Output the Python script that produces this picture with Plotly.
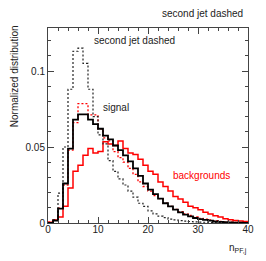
import plotly.graph_objects as go

# Bin edges of the n_PF,j histograms (unit-width bins, 0..40)
bin_edges = list(range(0, 41))

# Signal, leading jet (black solid)
sig_lead = [0.0, 0.0015, 0.0094, 0.026, 0.049, 0.068, 0.0715, 0.0715, 0.068, 0.065,
            0.062, 0.0575, 0.055, 0.051, 0.048, 0.0445, 0.0405, 0.036, 0.031, 0.026,
            0.022, 0.019, 0.016, 0.013, 0.011, 0.0088, 0.007, 0.0055, 0.0044, 0.0033,
            0.0026, 0.002, 0.0015, 0.001, 0.0008, 0.0006, 0.0004, 0.0003, 0.0002, 0.0001]

# Signal, second jet (black dotted)
sig_second = [0.0, 0.002, 0.0197, 0.050, 0.088, 0.113, 0.115, 0.105, 0.088, 0.070,
              0.058, 0.052, 0.041, 0.034, 0.029, 0.025, 0.021, 0.017, 0.013, 0.011,
              0.008, 0.006, 0.0045, 0.0035, 0.0025, 0.002, 0.0015, 0.0012, 0.001, 0.0008,
              0.0006, 0.0005, 0.0004, 0.0003, 0.0002, 0.0002, 0.0001, 0.0001, 0.0, 0.0]

# Backgrounds, leading jet (red solid)
bkg_lead = [0.0005, 0.002, 0.004, 0.011, 0.023, 0.034, 0.038, 0.0445, 0.049, 0.046,
            0.047, 0.0535, 0.052, 0.051, 0.054, 0.049, 0.046, 0.045, 0.042, 0.038,
            0.034, 0.032, 0.027, 0.024, 0.021, 0.0175, 0.0158, 0.0136, 0.011, 0.010,
            0.0088, 0.007, 0.006, 0.0048, 0.004, 0.0028, 0.0022, 0.0017, 0.0013, 0.001]

# Backgrounds, second jet (red dotted)
bkg_second = [0.0005, 0.002, 0.0097, 0.025, 0.048, 0.066, 0.0785, 0.0785, 0.0712, 0.0712,
              0.062, 0.056, 0.054, 0.047, 0.043, 0.040, 0.036, 0.032, 0.027, 0.024,
              0.021, 0.018, 0.016, 0.013, 0.011, 0.009, 0.0075, 0.006, 0.005, 0.004,
              0.003, 0.0025, 0.002, 0.0015, 0.001, 0.0008, 0.0006, 0.0004, 0.0003, 0.0002]

x_ticks = [0, 10, 20, 30, 40]
y_ticks = [0, 0.05, 0.1]
y_ticktext = ["0", "0.05", "0.1"]

FONT = "Liberation Sans, Arial, Helvetica, sans-serif"
RED = "#ff0000"

fig = go.Figure()

def add_hist(vals, color, width, dash):
    fig.add_trace(go.Scatter(
        x=bin_edges, y=vals + [vals[-1]], mode="lines",
        line=dict(color=color, width=width, dash=dash, shape="hv"),
        showlegend=False, hoverinfo="skip"))

add_hist(bkg_lead, RED, 1.5, "solid")
add_hist(bkg_second, RED, 1.3, "2px,2px")
add_hist(sig_second, "#222222", 1.2, "2px,2px")
add_hist(sig_lead, "#000000", 1.8, "solid")

axis_common = dict(
    showline=True, linecolor="#444444", linewidth=1, mirror="allticks",
    ticks="inside", tickcolor="#444444", tickwidth=1, ticklen=6,
    showgrid=False, zeroline=False,
    tickfont=dict(family=FONT, size=10, color="#222222"),
)

fig.update_xaxes(range=[0, 40], tickvals=x_ticks, ticklabelstandoff=-3,
                 minor=dict(ticks="inside", dtick=2, ticklen=3, tickcolor="#444444", showgrid=False),
                 **axis_common)
fig.update_yaxes(range=[0, 0.1283], tickvals=y_ticks, ticktext=y_ticktext,
                 minor=dict(ticks="inside", dtick=0.01, ticklen=3, tickcolor="#444444", showgrid=False),
                 **axis_common)

txt = dict(family=FONT, size=10, color="#222222")
annotations = [
    dict(text="second jet dashed", xref="paper", yref="paper", x=0.984, y=1.073,
         xanchor="right", yanchor="middle", showarrow=False, font=txt),
    dict(text="second jet dashed", xref="x", yref="y", x=8.76, y=0.120,
         xanchor="left", yanchor="middle", showarrow=False, font=txt),
    dict(text="signal", xref="x", yref="y", x=10.5, y=0.0759,
         xanchor="left", yanchor="middle", showarrow=False, font=txt),
    dict(text="backgrounds", xref="x", yref="y", x=24.6, y=0.0313,
         xanchor="left", yanchor="middle", showarrow=False,
         font=dict(family=FONT, size=10, color=RED)),
    dict(text="Normalized distribution", xref="paper", yref="paper", x=-0.166, y=0.752,
         xanchor="center", yanchor="middle", textangle=-90, showarrow=False, font=txt),
    dict(text="n<sub>PF,j</sub>", xref="paper", yref="paper", x=1.003, y=-0.13,
         xanchor="right", yanchor="middle", showarrow=False, font=txt),
]

# The page body adds an 8px offset; size the figure so the plot area lands
# at the reference position and the page does not overflow the window.
fig.update_layout(
    width=258, height=253, autosize=False,
    margin=dict(l=40, r=14, t=20, b=38, pad=0),
    paper_bgcolor="white", plot_bgcolor="white",
    annotations=annotations,
)

fig.write_html("out.html")
